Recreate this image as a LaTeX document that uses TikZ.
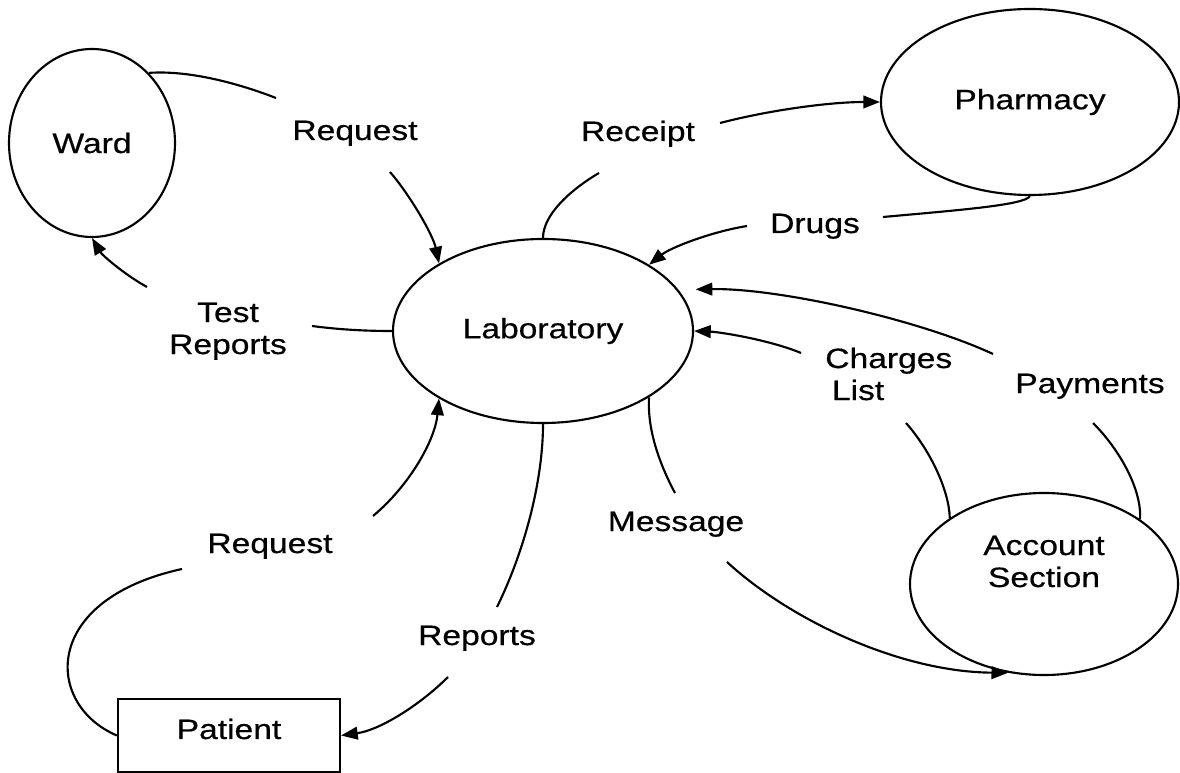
\documentclass[tikz,border=0pt]{standalone}
\usepackage{fontspec}
\setmainfont[FakeStretch=1.2,FakeBold=0.5]{Liberation Sans}
\usetikzlibrary{shapes.geometric,arrows.meta}

\begin{document}
\begin{tikzpicture}[x=0.75pt,y=-0.75pt,
  every node/.style={font=\fontsize{21}{24}\selectfont},
  proc/.style={draw, ellipse, line width=1.6pt, inner sep=0pt},
  ent/.style={draw, rectangle, line width=1.6pt, inner sep=0pt},
  lbl/.style={inner sep=0pt},
  flow/.style={line width=1.6pt},
  arr/.style={flow, -{Triangle[length=12.5pt,width=9.5pt]}}]
\useasboundingbox (0,0) rectangle (1180,773);

% processes and the external entity
\node[proc, minimum width=124.5pt, minimum height=141pt] (ward) at (92,143) {Ward};
\node[proc, minimum width=223.5pt, minimum height=139.5pt] (pharm) at (1030,102) {Pharmacy};
\node[proc, minimum width=225pt, minimum height=138pt] (lab) at (543,331) {Laboratory};
\node[proc, minimum width=201pt, minimum height=136.5pt] (acct) at (1044,584)
  {\raisebox{21.75pt}[0pt][0pt]{\begin{tabular}[t]{@{}c@{}}Account\\Section\end{tabular}}};
\node[ent, minimum width=166.5pt, minimum height=54.75pt, text depth=10pt] (patient) at (229,735.5) {Patient};

% flow labels
\node[lbl, anchor=base] (lreqward) at (355,140) {Request};
\node[lbl, anchor=base] (lreceipt) at (638,141) {Receipt};
\node[lbl, anchor=base] (ldrugs) at (815,233) {Drugs};
\node[lbl, anchor=base] (ltest) at (228,322) {\begin{tabular}[t]{@{}c@{}}Test\\Reports\end{tabular}};
\node[lbl, anchor=base west] (lcharges) at (825,368) {\begin{tabular}[t]{@{}l@{}}Charges\\\hspace*{5pt}List\end{tabular}};
\node[lbl, anchor=base] (lpay) at (1090,393) {Payments};
\node[lbl, anchor=base] (lmsg) at (676,531) {Message};
\node[lbl, anchor=base] (lreqpat) at (270,553) {Request};
\node[lbl, anchor=base] (lrep) at (477,645) {Reports};

% ends of the flow lines where they break around their labels
\coordinate (q1a) at (276,98);   \coordinate (q1b) at (390,172);
\coordinate (r2a) at (599,173);  \coordinate (r2b) at (720,123);
\coordinate (d3a) at (883,217);  \coordinate (d3b) at (747,226);
\coordinate (p4a) at (1093,423); \coordinate (p4b) at (993,354);
\coordinate (c5a) at (906,423);  \coordinate (c5b) at (801,353);
\coordinate (m6a) at (675,493);  \coordinate (m6b) at (727,562);
\coordinate (t7a) at (497,607);  \coordinate (t7b) at (448,677);
\coordinate (q8a) at (182,569);  \coordinate (q8b) at (373,516);
\coordinate (w9a) at (312,326);  \coordinate (w9b) at (147,287);

% Ward -> Laboratory : Request
\draw[flow] (ward.51) .. controls (190,70) and (240,84) .. (q1a);
\draw[arr] (q1b) .. controls (410,195) and (433,235) .. (lab.147);
% Laboratory -> Pharmacy : Receipt
\draw[flow] (lab.north) .. controls (543,215) and (570,190) .. (r2a);
\draw[arr] (r2b) .. controls (770,110) and (830,102) .. (pharm.west);
% Pharmacy -> Laboratory : Drugs
\draw[flow] (pharm.south) .. controls (1025,205) and (960,210) .. (d3a);
\draw[arr] (d3b) .. controls (710,232) and (670,248) .. (lab.32);
% Account Section -> Laboratory : Payments
\draw[flow] (acct.34) .. controls (1142,490) and (1120,450) .. (p4a);
\draw[arr, shorten >=13pt] (p4b) .. controls (920,320) and (780,288) .. (lab.17);
% Account Section -> Laboratory : Charges List
\draw[flow] (acct.145) .. controls (949,490) and (930,450) .. (c5a);
\draw[arr] (c5b) .. controls (770,340) and (720,332) .. (lab.east);
% Laboratory -> Account Section : Message
\draw[flow] (lab.328) .. controls (647,430) and (660,465) .. (m6a);
\draw[arr] (m6b) .. controls (790,620) and (900,672) .. (acct.248);
% Laboratory -> Patient : Reports
\draw[flow] (lab.south) .. controls (543,480) and (525,550) .. (t7a);
\draw[arr] (t7b) .. controls (420,705) and (380,730) .. (patient.east);
% Patient -> Laboratory : Request
\draw[flow] (patient.west) .. controls (45,705) and (40,600) .. (q8a);
\draw[arr] (q8b) .. controls (410,485) and (435,440) .. (lab.213);
% Laboratory -> Ward : Test Reports
\draw[flow] (lab.west) .. controls (360,331) and (335,329) .. (w9a);
\draw[arr] (w9b) .. controls (125,275) and (102,255) .. (ward.south);
\end{tikzpicture}
\end{document}
